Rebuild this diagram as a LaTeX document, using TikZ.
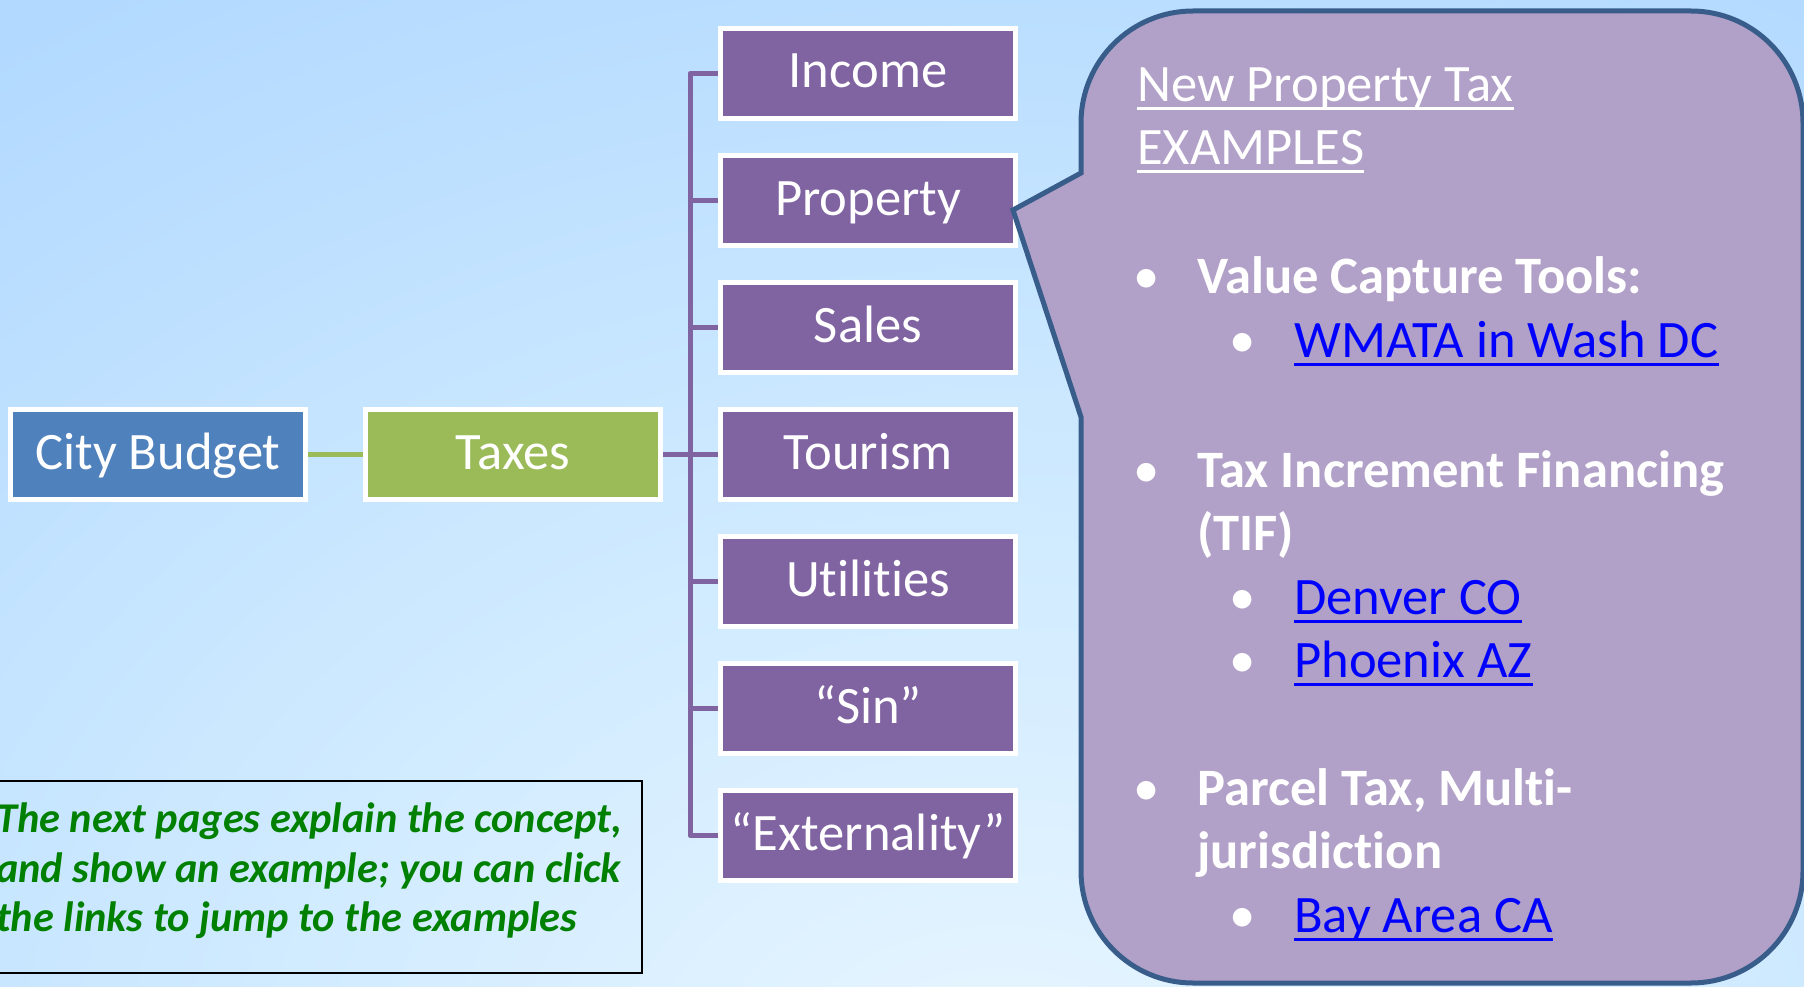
\documentclass[tikz,border=0pt]{standalone}
\usepackage{fontspec}
\setmainfont{Carlito}[Ligatures={NoCommon}]
\definecolor{bgA}{RGB}{232,246,255}
\definecolor{bgB}{RGB}{205,233,255}
\definecolor{bgC}{RGB}{178,217,255}
\definecolor{bluebox}{RGB}{79,129,189}
\definecolor{greenbox}{RGB}{155,187,89}
\definecolor{purplebox}{RGB}{128,100,162}
\definecolor{callfill}{RGB}{177,160,199}
\definecolor{callline}{RGB}{56,93,138}
\definecolor{linkblue}{RGB}{0,0,255}
\definecolor{notegreen}{RGB}{0,128,0}
\pgfdeclareradialshading{bgshade}{\pgfpoint{0bp}{0bp}}{color(0bp)=(bgA); color(12.5bp)=(bgB); color(25bp)=(bgC); color(50bp)=(bgC)}
\tikzset{
  boxbase/.style={draw=white, line width=5pt, inner sep=0pt, minimum width=295pt, minimum height=90pt,
    text=white, font=\fontsize{52.6}{60}\selectfont, text height=33pt, text depth=4pt},
  bbox/.style={boxbase, fill=bluebox},
  gbox/.style={boxbase, fill=greenbox},
  pbox/.style={boxbase, fill=purplebox},
  pline/.style={draw=purplebox, line width=5pt, line join=round},
  gline/.style={draw=greenbox, line width=5pt},
  callout/.style={draw=callline, fill=callfill, line width=5pt, line join=miter},
  ctext/.style={anchor=base west, inner sep=0pt, text=white, font=\fontsize{52.6}{63}\selectfont},
  btext/.style={ctext, font=\fontsize{52.6}{63}\selectfont\bfseries},
  ltext/.style={ctext, text=linkblue},
  bul/.style={anchor=base, inner sep=0pt, text=white, font=\fontsize{52.6}{63}\selectfont},
  wul/.style={draw=white, line width=3.5pt},
  bul2/.style={draw=linkblue, line width=3.5pt},
  notebox/.style={draw=black, line width=2.5pt, minimum width=652pt, minimum height=192pt, inner sep=0pt},
  notetext/.style={anchor=base west, inner sep=0pt, text=notegreen, font=\fontsize{42.4}{50}\selectfont\bfseries\itshape}
}
\begin{document}
\begin{tikzpicture}[x=1pt,y=-1pt]
\useasboundingbox (0,0) rectangle (1804,987);
\clip (0,0) rectangle (1804,987);
% background
\fill[bgC] (0,0) rectangle (1804,987);
\shade[shading=bgshade] (1000,1100) ellipse (1700 and 1300);

% nodes
\node[bbox] (city) at (158,454.5) {City Budget};
\node[gbox] (taxes) at (513,454.5) {Taxes};
\foreach \nm/\lab [count=\i from 0] in {income/Income, property/Property, sales/Sales, tourism/Tourism, utilities/Utilities, sin/“Sin”, ext/“Externality”}
  \node[pbox] (\nm) at (868,73.5+127*\i) {\lab};

% connectors
\coordinate (hub) at (690,454.5);
\draw[gline] (city.east) -- (taxes.west);
\foreach \nm in {income, property, sales, tourism, utilities, sin, ext}
  \draw[pline] (taxes.east) -- (hub) |- (\nm.west);

% callout
\draw[callout] (1013,210) -- (1081,417) -- (1081,871)
  .. controls (1081,932.9) and (1131.1,983) .. (1193,983) -- (1691,983)
  .. controls (1752.9,983) and (1803,932.9) .. (1803,871) -- (1803,123)
  .. controls (1803,61.1) and (1752.9,11) .. (1691,11) -- (1193,11)
  .. controls (1131.1,11) and (1081,61.1) .. (1081,123) -- (1081,173) -- cycle;

% callout text
\node[ctext] (t1) at (1137,102) {New Property Tax};
\node[ctext] (t2) at (1137,165) {EXAMPLES};
\draw[wul] ([yshift=-6.5pt]t1.base west) -- ([yshift=-6.5pt]t1.base east);
\draw[wul] ([yshift=-6.5pt]t2.base west) -- ([yshift=-6.5pt]t2.base east);

\node[bul] (d1) at (1147,293) {•};
\node[btext] (v1) at (1197,293) {Value Capture Tools:};
\node[bul] (d2) at (1243,357) {•};
\node[ltext] (k1) at (1294,357) {WMATA in Wash DC};

\node[bul] (d3) at (1147,487) {•};
\node[btext] (v2) at (1197,487) {Tax Increment Financing};
\node[btext] (v2b) at (1197,550) {(TIF)};
\node[bul] (d4) at (1243,614) {•};
\node[ltext] (k2) at (1294,614) {Denver CO};
\node[bul] (d5) at (1243,677) {•};
\node[ltext] (k3) at (1294,677) {Phoenix AZ};

\node[bul] (d6) at (1147,805) {•};
\node[btext] (v3) at (1197,805) {Parcel Tax, Multi-};
\node[btext] (v3b) at (1197,868) {jurisdiction};
\node[bul] (d7) at (1243,932) {•};
\node[ltext] (k4) at (1294,932) {Bay Area CA};

\foreach \k in {k1,k2,k3,k4}
  \draw[bul2] ([yshift=-7.5pt]\k.base west) -- ([yshift=-7.5pt]\k.base east);

% note
\node[notebox] (note) at (316,877) {};
\node[notetext] (n1) at (-4,832) {The next pages explain the concept,};
\node[notetext] (n2) at (-4,882) {and show an example; you can click};
\node[notetext] (n3) at (-4,931) {the links to jump to the examples};
\end{tikzpicture}
\end{document}
